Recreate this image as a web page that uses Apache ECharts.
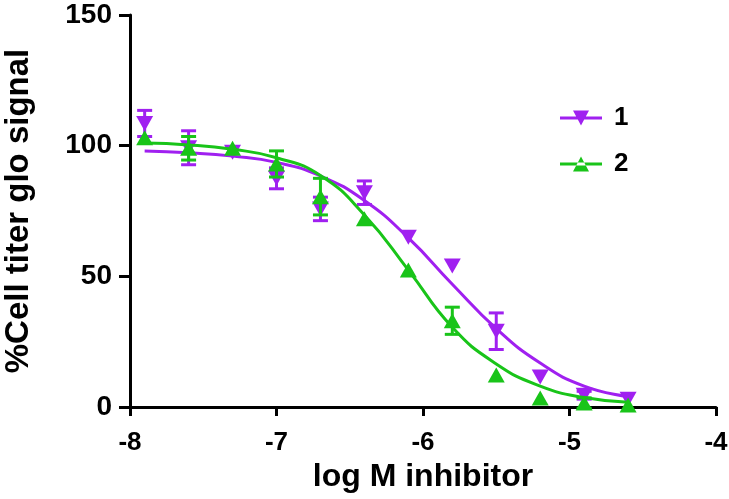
<!DOCTYPE html>
<html>
<head>
<meta charset="utf-8">
<script src="https://cdn.jsdelivr.net/npm/echarts@6/dist/echarts.min.js"></script>
<style>html,body{margin:0;padding:0;background:#fff}#c{width:729px;height:499px}</style>
</head>
<body>
<div id="c"></div>
<script>
// Data
const xVals = [-7.9, -7.6, -7.3, -7.0, -6.7, -6.4, -6.1, -5.8, -5.5, -5.2, -4.9, -4.6];
const mean1 = [108.5, 99.2, 97.5, 87.5, 75.8, 82, 65, 54, 29, 11.5, 4.5, 3];
const err1  = [5, 6.5, 0, 4, 4.5, 4.5, 0, 0, 7, 0, 1.5, 0];
const mean2 = [103, 99, 99, 93, 80.5, 72, 52.4, 33, 12.2, 3.4, 1.5, 0.8];
const err2  = [0, 4.5, 0, 5, 7, 0, 0, 5.2, 0, 0, 2, 0];

// Fitted curves
const curveX = [-7.9, -7.6, -7.3, -7.0, -6.7, -6.4, -6.1, -5.8, -5.5, -5.2, -4.9, -4.6];
const curve1 = [98, 97.3, 96, 93.6, 88.4, 79, 64.7, 47, 30, 16.8, 8, 4];
const curve2 = [101, 100.3, 98.6, 95.4, 88.6, 73.5, 52.4, 30.5, 16.5, 8, 3.6, 1.8];

const xTicks = [-8, -7, -6, -5, -4];
const yTicks = [0, 50, 100, 150];
const seriesNames = ['1', '2'];

const PURPLE = '#A020F0';
const GREEN = '#19C419';
const FONT = 'Liberation Sans';

function pairs(xs, ys) { return xs.map((x, i) => [x, ys[i]]); }

function errSeries(means, errs, color) {
  return {
    type: 'custom',
    silent: true,
    z: 3,
    data: xVals.map((x, i) => [x, means[i], errs[i]]),
    renderItem: function (params, api) {
      const x = api.value(0), m = api.value(1), e = api.value(2);
      if (!e) return null;
      const top = api.coord([x, m + e]);
      const bot = api.coord([x, m - e]);
      const hw = 7.5;
      const st = { stroke: color, lineWidth: 3 };
      return {
        type: 'group',
        children: [
          { type: 'line', shape: { x1: top[0], y1: top[1], x2: bot[0], y2: bot[1] }, style: st },
          { type: 'line', shape: { x1: top[0] - hw, y1: top[1], x2: top[0] + hw, y2: top[1] }, style: st },
          { type: 'line', shape: { x1: bot[0] - hw, y1: bot[1], x2: bot[0] + hw, y2: bot[1] }, style: st }
        ]
      };
    }
  };
}

const chart = echarts.init(document.getElementById('c'));
chart.setOption({
  animation: false,
  backgroundColor: '#fff',
  grid: { left: 130, right: 13, top: 15, bottom: 92, containLabel: false, outerBoundsMode: 'none' },
  legend: {
    left: 560, top: 105, orient: 'vertical', padding: 0,
    itemWidth: 42, itemHeight: 15, itemGap: 20,
    textStyle: { fontSize: 26, fontWeight: 'bold', color: '#000', fontFamily: FONT, padding: [0, 0, 0, 7] },
    data: [
      { name: seriesNames[0], icon: 'path://M0,6L42,6L42,9L0,9Z M13,0L29,0L21,15Z', itemStyle: { color: PURPLE } },
      { name: seriesNames[1], icon: 'path://M0,6L42,6L42,9L0,9Z M13,15L29,15L21,0Z', itemStyle: { color: GREEN } }
    ]
  },
  xAxis: {
    type: 'value', min: xTicks[0], max: xTicks[xTicks.length - 1], interval: 1,
    name: 'log M inhibitor', nameLocation: 'middle', nameGap: 53,
    nameTextStyle: { fontSize: 32, fontWeight: 'bold', color: '#000', fontFamily: FONT },
    axisLine: { lineStyle: { color: '#000', width: 3 } },
    axisTick: { length: 9, lineStyle: { color: '#000', width: 3 } },
    axisLabel: { margin: 23, fontSize: 26, fontWeight: 'bold', color: '#000', fontFamily: FONT },
    splitLine: { show: false }
  },
  yAxis: {
    type: 'value', min: yTicks[0], max: yTicks[yTicks.length - 1], interval: 50,
    name: '%Cell titer glo signal', nameLocation: 'middle', nameGap: 95,
    nameTextStyle: { fontSize: 33, fontWeight: 'bold', color: '#000', fontFamily: FONT },
    axisLine: { show: true, lineStyle: { color: '#000', width: 3 } },
    axisTick: { show: true, length: 11, lineStyle: { color: '#000', width: 3 } },
    axisLabel: { margin: 18, fontSize: 28, fontWeight: 'bold', color: '#000', fontFamily: FONT },
    splitLine: { show: false }
  },
  series: [
    {
      name: seriesNames[0], type: 'line', data: pairs(curveX, curve1),
      smooth: 0.5, showSymbol: false, symbol: 'none',
      lineStyle: { color: PURPLE, width: 3 }, itemStyle: { color: PURPLE }, z: 2
    },
    errSeries(mean1, err1, PURPLE),
    {
      name: 'pts1', type: 'scatter', data: pairs(xVals, mean1),
      symbol: 'triangle', symbolRotate: 180, symbolSize: [17, 15],
      itemStyle: { color: PURPLE, opacity: 1 }, z: 4
    },
    {
      name: seriesNames[1], type: 'line', data: pairs(curveX, curve2),
      smooth: 0.5, showSymbol: false, symbol: 'none',
      lineStyle: { color: GREEN, width: 3 }, itemStyle: { color: GREEN }, z: 5
    },
    Object.assign(errSeries(mean2, err2, GREEN), { z: 6 }),
    {
      name: 'pts2', type: 'scatter', data: pairs(xVals, mean2),
      symbol: 'triangle', symbolSize: [17, 15],
      itemStyle: { color: GREEN, opacity: 1 }, z: 7
    }
  ]
});
</script>
</body>
</html>
